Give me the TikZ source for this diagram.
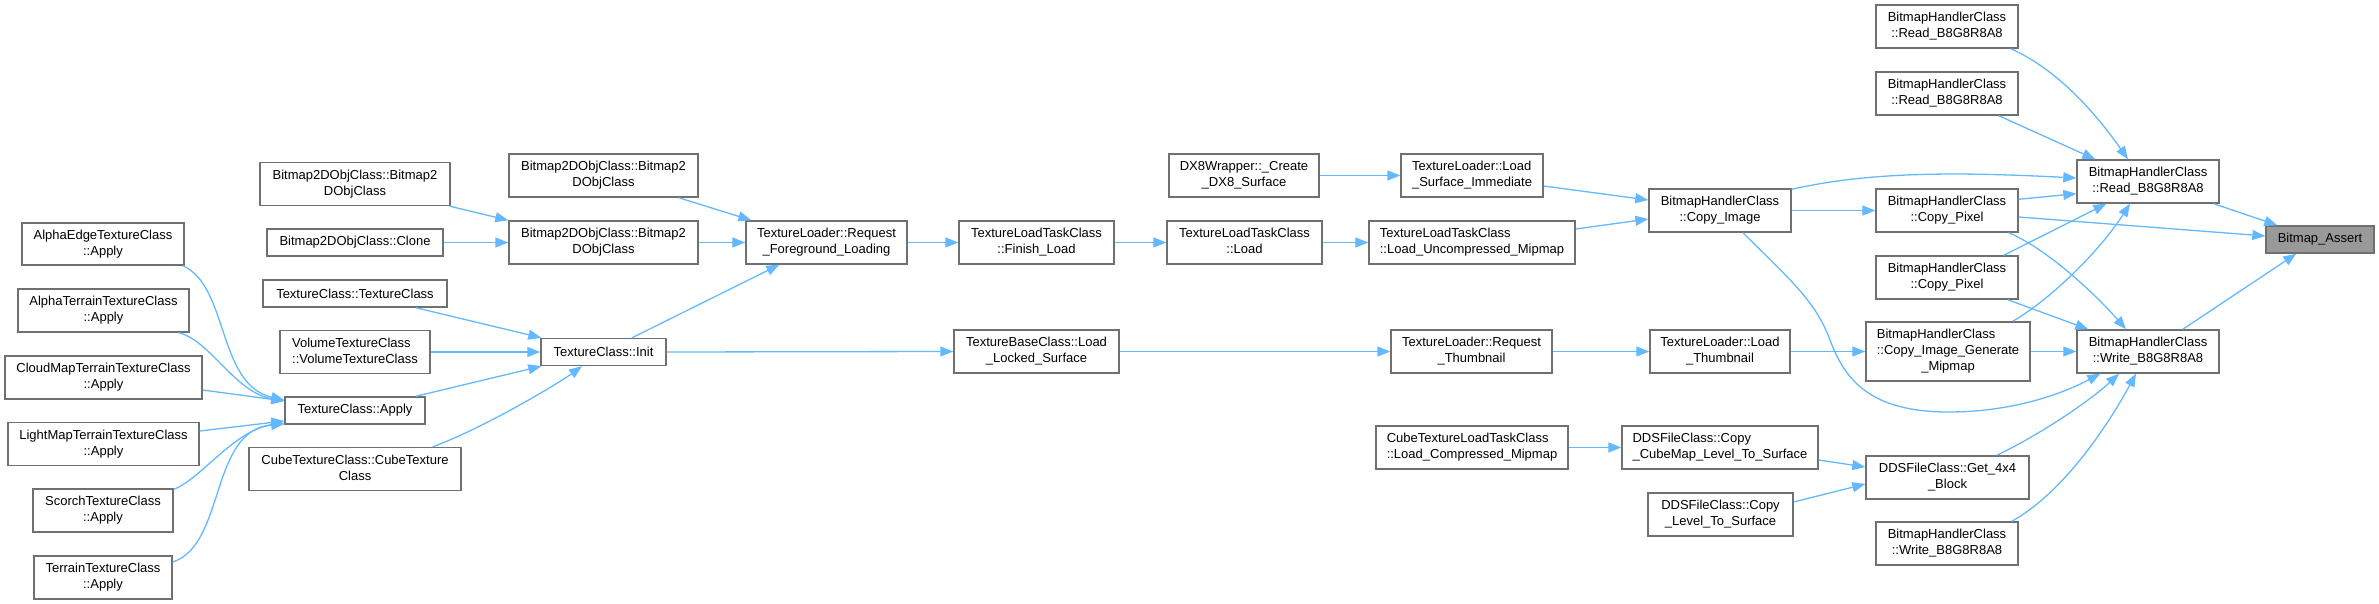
\documentclass[tikz,border=0pt]{standalone}
\usepackage{fontspec}
\setmainfont{Liberation Sans}
\usetikzlibrary{arrows.meta,calc}
\definecolor{edgeblue}{HTML}{63B8FF}
\definecolor{boxgray}{HTML}{707070}
\definecolor{hlgray}{HTML}{999999}
\newcommand{\nodefont}{\fontsize{13}{16}\selectfont}
\newcommand{\twol}[2]{\begin{tabular}{@{}l@{}}#1\\\multicolumn{1}{@{}c@{}}{#2}\end{tabular}}
\newcommand{\bx}[6]{\node[fn,minimum width=#4pt,minimum height=#5pt] (#1) at (#2,#3) {#6};}
\tikzset{
  fn/.style={draw=boxgray, line width=1.4pt, fill=white, inner sep=0pt, font=\nodefont, text=black},
  ed/.style={draw=edgeblue, line width=1.3pt, -{Triangle[length=13pt,width=10pt]}}
}
\begin{document}
\begin{tikzpicture}[x=1pt,y=-1pt]
\useasboundingbox (0,0) rectangle (2379,604);
% column 1
\bx{aedge}{103}{244}{162}{42}{\twol{AlphaEdgeTextureClass}{::Apply}}
\bx{aterr}{103.5}{310.5}{171}{43}{\twol{AlphaTerrainTextureClass}{::Apply}}
\bx{cloud}{103.5}{377.5}{197}{43}{\twol{CloudMapTerrainTextureClass}{::Apply}}
\bx{light}{103.5}{444}{191}{43}{\twol{LightMapTerrainTextureClass}{::Apply}}
\bx{scorch}{103}{510.5}{140}{43}{\twol{ScorchTextureClass}{::Apply}}
\bx{terr}{103}{577.5}{138}{43}{\twol{TerrainTextureClass}{::Apply}}
% column 2
\bx{b2l}{355}{184}{190}{43}{\twol{Bitmap2DObjClass::Bitmap2}{DObjClass}}
\bx{clone}{355}{242.5}{176}{27}{Bitmap2DObjClass::Clone}
\bx{tctc}{355}{293.5}{184}{27}{TextureClass::TextureClass}
\bx{vol}{355}{352}{150}{43}{\twol{VolumeTextureClass}{::VolumeTextureClass}}
\bx{apply}{355}{410.5}{140}{27}{TextureClass::Apply}
\bx{cube}{355}{469}{212}{43}{\twol{CubeTextureClass::CubeTexture}{Class}}
% column 3
\bx{b2a}{603.5}{175.5}{189}{43}{\twol{Bitmap2DObjClass::Bitmap2}{DObjClass}}
\bx{b2b}{603.5}{242.5}{189}{43}{\twol{Bitmap2DObjClass::Bitmap2}{DObjClass}}
\bx{init}{603.5}{352}{125}{27}{TextureClass::Init}
% column 4
\bx{rfl}{826.5}{242.5}{161}{43}{\twol{TextureLoader::Request}{\_Foreground\_Loading}}
% column 5
\bx{fin}{1036.5}{242.5}{155}{43}{\twol{TextureLoadTaskClass}{::Finish\_Load}}
\bx{lls}{1036.5}{351.5}{165}{43}{\twol{TextureBaseClass::Load}{\_Locked\_Surface}}
% column 6
\bx{dx8}{1244}{175.5}{150}{43}{\twol{DX8Wrapper::\_Create}{\_DX8\_Surface}}
\bx{tlt}{1244.5}{242.5}{155}{43}{\twol{TextureLoadTaskClass}{::Load}}
% column 7
\bx{lsi}{1472}{175.5}{142}{43}{\twol{TextureLoader::Load}{\_Surface\_Immediate}}
\bx{lum}{1472}{242.5}{206}{43}{\twol{TextureLoadTaskClass}{::Load\_Uncompressed\_Mipmap}}
\bx{rth}{1471.5}{351.5}{161}{43}{\twol{TextureLoader::Request}{\_Thumbnail}}
\bx{ctl}{1472}{447.5}{192}{43}{\twol{CubeTextureLoadTaskClass}{::Load\_Compressed\_Mipmap}}
% column 8
\bx{cimg}{1720}{210.5}{142}{43}{\twol{BitmapHandlerClass}{::Copy\_Image}}
\bx{lth}{1720}{351.5}{140}{43}{\twol{TextureLoader::Load}{\_Thumbnail}}
\bx{ccube}{1720}{447.5}{196}{43}{\twol{DDSFileClass::Copy}{\_CubeMap\_Level\_To\_Surface}}
\bx{clev}{1720.5}{514.5}{145}{43}{\twol{DDSFileClass::Copy}{\_Level\_To\_Surface}}
% column 9
\bx{r1}{1947}{26.5}{142}{43}{\twol{BitmapHandlerClass}{::Read\_B8G8R8A8}}
\bx{r2}{1947}{93.5}{142}{43}{\twol{BitmapHandlerClass}{::Read\_B8G8R8A8}}
\bx{cp1}{1947}{210.5}{142}{43}{\twol{BitmapHandlerClass}{::Copy\_Pixel}}
\bx{cp2}{1947}{277.5}{142}{43}{\twol{BitmapHandlerClass}{::Copy\_Pixel}}
\bx{cigm}{1948}{351.5}{164}{59}{\twol{BitmapHandlerClass\\::Copy\_Image\_Generate}{\_Mipmap}}
\bx{g44}{1947.5}{477.5}{163}{43}{\twol{DDSFileClass::Get\_4x4}{\_Block}}
\bx{wb}{1947}{543.5}{142}{43}{\twol{BitmapHandlerClass}{::Write\_B8G8R8A8}}
% column 10
\bx{rmain}{2148}{181.5}{142}{43}{\twol{BitmapHandlerClass}{::Read\_B8G8R8A8}}
\bx{wmain}{2148}{351.5}{142}{43}{\twol{BitmapHandlerClass}{::Write\_B8G8R8A8}}
% target
\node[fn,fill=hlgray,minimum width=108pt,minimum height=27pt] (assert) at (2320,239.5) {Bitmap\_Assert};

% edges into TextureClass::Apply
\draw[ed] ($(aedge.south east)+(-2,0)$) .. controls +(46,20) and +(-67,-15) .. ($(apply.west)+(0,-10.5)$);
\draw[ed] ($(aterr.south east)+(-11,0)$) .. controls +(32,8) and +(-50,-9) .. ($(apply.west)+(0,-9.5)$);
\draw[ed] ($(cloud.east)+(0,12.5)$) -- ($(apply.west)+(0,-9.5)$);
\draw[ed] ($(light.east)+(0,-13)$) -- ($(apply.west)+(0,10.5)$);
\draw[ed] ($(scorch.north east)+(0,1)$) .. controls +(27,-10) and +(-50,7) .. ($(apply.west)+(0,12.5)$);
\draw[ed] ($(terr.east)+(0,-15.5)$) .. controls +(53,-17) and +(-75,6) .. ($(apply.west)+(0,13.5)$);
% column 2 -> 3
\draw[ed] ($(b2l.south east)+(-1,0)$) -- (b2b.north west);
\draw[ed] (clone.east) -- (b2b.west);
\draw[ed] ($(tctc.south east)+(-32,0)$) -- ($(init.north west)+(1,0)$);
\draw[ed] (vol.east) -- (init.west);
\draw[ed] ($(apply.north east)+(-10,0)$) -- ($(init.south west)+(1,0)$);
\draw[ed] ($(cube.north east)+(-29,0)$) .. controls +(48,-17.5) and +(-27,19.5) .. ($(init.south)+(-21.5,0)$);
% column 3 -> 4
\draw[ed] ($(b2a.south east)+(-20,0)$) -- ($(rfl.north west)+(6,0)$);
\draw[ed] (b2b.east) -- (rfl.west);
\draw[ed] ($(init.north)+(28.5,0)$) -- ($(rfl.south west)+(34,0)$);
\draw[ed] (init.east) -- (lls.west);
% chain
\draw[ed] (rfl.east) -- (fin.west);
\draw[ed] (fin.east) -- (tlt.west);
\draw[ed] (tlt.east) -- (lum.west);
\draw[ed] (dx8.east) -- (lsi.west);
\draw[ed] ($(lsi.east)+(0,10.5)$) -- ($(cimg.west)+(0,-10.5)$);
\draw[ed] ($(lum.east)+(0,-13.5)$) -- ($(cimg.west)+(0,8.5)$);
\draw[ed] (lls.east) -- (rth.west);
\draw[ed] (rth.east) -- (lth.west);
\draw[ed] (lth.east) -- (cigm.west);
\draw[ed] (ctl.east) -- (ccube.west);
\draw[ed] ($(ccube.east)+(0,12.5)$) -- ($(g44.west)+(0,-10.5)$);
\draw[ed] ($(clev.east)+(0,-12.5)$) -- ($(g44.west)+(0,6.5)$);
% Copy_Image
\draw[ed] ($(cimg.north east)+(0,1)$) .. controls +(79,-18) and +(-117,-6) .. ($(rmain.west)+(0,-3.5)$);
\draw[ed] (cimg.east) -- (cp1.west);
\draw[ed] ($(cimg.south)+(23,0)$) .. controls (1790,280) and (1815,300) .. (1830,340)
   .. controls (1845,380) and (1870,412) .. (1949,412)
   .. controls (2010,412) and (2060,395) .. ($(wmain.south west)+(24,0)$);
% into Read main
\draw[ed] ($(r1.south east)+(-8,0)$) .. controls +(50,22) and +(-28,-40) .. ($(rmain.north)+(-20,0)$);
\draw[ed] ($(r2.south east)+(-20,0)$) -- ($(rmain.north west)+(19,0)$);
\draw[ed] ($(cp1.north east)+(0,11)$) -- ($(rmain.south west)+(0,-10)$);
\draw[ed] ($(cp2.north east)+(-15,0)$) -- ($(rmain.south west)+(30,0)$);
\draw[ed] ($(cigm.north east)+(-18,0)$) .. controls +(38,-22) and +(-30,47) .. ($(rmain.south)+(-18,0)$);
% into Write main
\draw[ed] ($(cp1.south east)+(-10,0)$) .. controls +(42,18) and +(-26,-30) .. ($(wmain.north)+(-22,0)$);
\draw[ed] ($(cp2.south east)+(-11,0)$) -- ($(wmain.north west)+(12,0)$);
\draw[ed] (cigm.east) -- (wmain.west);
\draw[ed] ($(g44.north east)+(-33,0)$) .. controls +(44,-21) and +(-29,27) .. ($(wmain.south)+(-29,0)$);
\draw[ed] ($(wb.north east)+(-7,0)$) .. controls +(49,-27) and +(-31,57) .. ($(wmain.south)+(-12,0)$);
% into Bitmap_Assert
\draw[ed] ($(cp1.east)+(0,6.5)$) -- ($(assert.west)+(0,-3.5)$);
\draw[ed] ($(rmain.south east)+(-6,0)$) -- ($(assert.north west)+(12,0)$);
\draw[ed] ($(wmain.north east)+(-37,0)$) -- ($(assert.south west)+(31,0)$);
\end{tikzpicture}
\end{document}
